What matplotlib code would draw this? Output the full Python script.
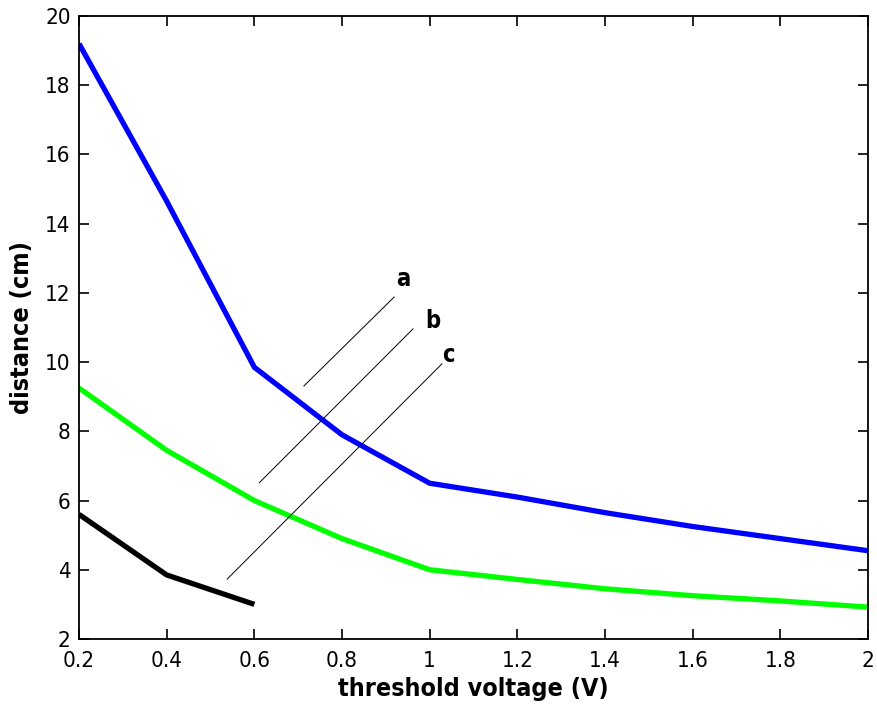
import matplotlib.pyplot as plt

voltage = [0.2, 0.4, 0.6, 0.8, 1.0, 1.2, 1.4, 1.6, 1.8, 2.0]
dist_a = [19.2, 14.65, 9.85, 7.9, 6.5, 6.1, 5.65, 5.25, 4.9, 4.55]
dist_b = [9.25, 7.45, 6.0, 4.9, 4.0, 3.72, 3.45, 3.25, 3.1, 2.92]
voltage_c = [0.2, 0.4, 0.6]
dist_c = [5.6, 3.85, 3.0]

labels = ["a", "b", "c"]
label_lines = [
    ([0.713, 0.919], [9.31, 11.88]),
    ([0.611, 0.962], [6.51, 10.96]),
    ([0.538, 1.028], [3.73, 9.95]),
]
label_pos = [(0.939, 12.4), (1.008, 11.2), (1.042, 10.2)]

plt.rcParams["font.family"] = ["DejaVu Sans"]
plt.rcParams["font.stretch"] = "condensed"

fig = plt.figure(figsize=(8.78, 7.08), dpi=100)
ax = fig.add_axes([0.090, 0.0975, 0.8986, 0.8799])

ax.plot(voltage, dist_a, color="#0000ff", lw=3.8, solid_capstyle="butt")
ax.plot(voltage, dist_b, color="#00ff00", lw=3.8, solid_capstyle="butt")
ax.plot(voltage_c, dist_c, color="black", lw=3.8, solid_capstyle="butt")

for (xs, ys), lab, (tx, ty) in zip(label_lines, labels, label_pos):
    ax.plot(xs, ys, color="black", lw=0.7)
    ax.text(tx, ty, lab, fontsize=17, fontweight="bold", ha="center", va="center")

ax.set_xlim(0.2, 2.0)
ax.set_ylim(2, 20)
ax.set_xticks([0.2, 0.4, 0.6, 0.8, 1.0, 1.2, 1.4, 1.6, 1.8, 2.0])
ax.set_xticklabels(["0.2", "0.4", "0.6", "0.8", "1", "1.2", "1.4", "1.6", "1.8", "2"])
ax.set_yticks(range(2, 21, 2))
ax.tick_params(direction="in", top=True, right=True, length=7, width=1.2,
               labelsize=16)
ax.tick_params(axis="x", pad=9)
ax.tick_params(axis="y", pad=6)
for s in ax.spines.values():
    s.set_linewidth(1.3)

ax.set_xlabel("threshold voltage (V)", fontsize=18, fontweight="bold", labelpad=4)
ax.set_ylabel("distance (cm)", fontsize=18, fontweight="bold", labelpad=8)

fig.savefig("out.png", dpi=100)
